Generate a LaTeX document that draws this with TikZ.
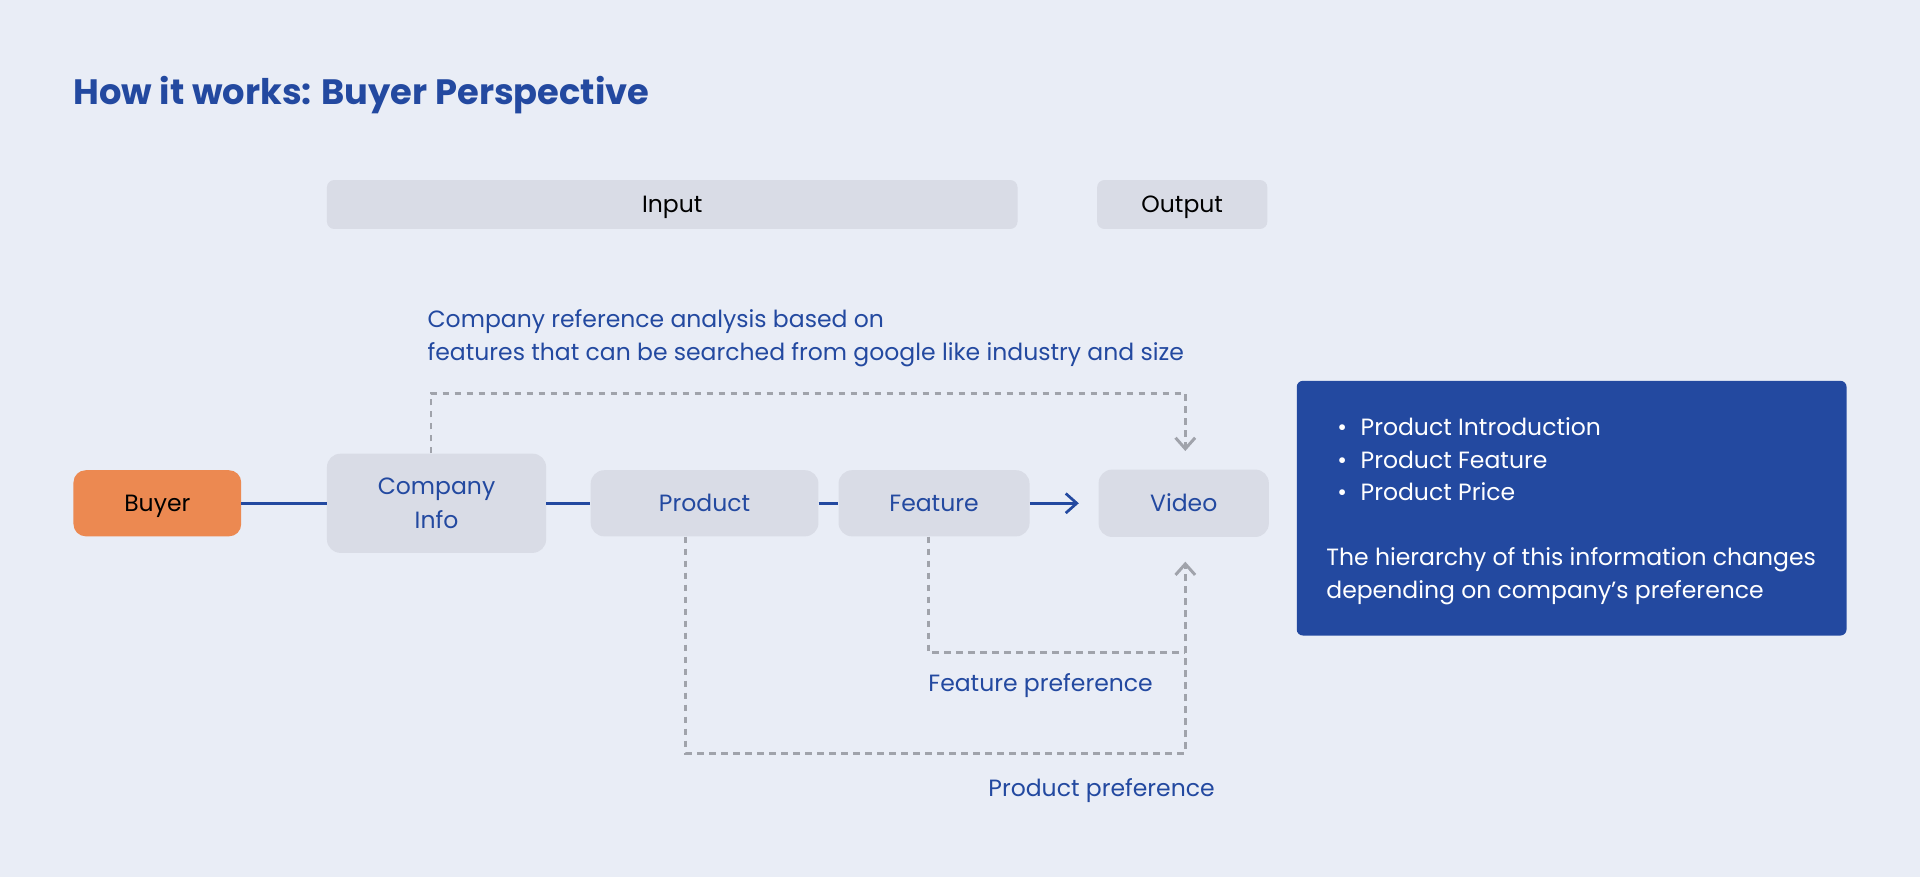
\documentclass[tikz,border=0pt]{standalone}
\usepackage{fontspec}
\setmainfont{Poppins}
\usetikzlibrary{arrows.meta,positioning}
\definecolor{bgcol}{HTML}{E9EDF6}
\definecolor{boxgray}{HTML}{D9DCE6}
\definecolor{ink}{HTML}{2349A0}
\definecolor{buyercol}{HTML}{EC8951}
\definecolor{dashgray}{HTML}{A0A3AB}
\newcommand{\bodysize}{\fontsize{19.2}{27}\selectfont}
\begin{document}
\begin{tikzpicture}[x=1pt,y=-1pt,>={Straight Barb[length=9pt,width=16pt]},
    main node/.style={fill=boxgray,rounded corners=11pt,inner sep=0pt,text=ink,align=center,font=\bodysize},
    one line/.style={text height=20pt,text depth=6.7pt},
    head node/.style={fill=boxgray,rounded corners=6pt,inner sep=0pt,minimum height=40pt,font=\bodysize,one line},
    note/.style={text=ink,inner sep=0pt,anchor=west,align=left,font=\bodysize},
    info text/.style={text=white,inner sep=0pt,anchor=west,font=\bodysize},
    link/.style={draw=ink,line width=2.2pt},
    pref/.style={draw=dashgray,line width=2.4pt,dash pattern=on 5.5pt off 4.3pt}]
    \useasboundingbox[fill=bgcol] (0,0) rectangle (1568,716);
    \node[text=ink,anchor=west,inner sep=0pt,font=\fontsize{28.8}{34}\selectfont\bfseries] (title) at (60,78) {How it works: Buyer Perspective};
    % header bars
    \node[head node,minimum width=564pt] (input) at (549,167) {Input};
    \node[head node,minimum width=139pt] (output) at (965.5,167) {Output};
    % flow
    \node[main node,one line,fill=buyercol,text=black,minimum width=137pt,minimum height=54pt,rounded corners=10pt] (buyer) at (128.5,411) {Buyer};
    \node[main node,minimum width=179pt,minimum height=81pt] (cinfo) at (356.5,411) {Company\\Info};
    \node[main node,one line,minimum width=186pt,minimum height=54pt] (product) [right=36pt of cinfo] {Product};
    \node[main node,one line,minimum width=156pt,minimum height=54pt] (feature) [right=16pt of product] {Feature};
    \node[main node,one line,minimum width=139pt,minimum height=55pt] (video) [right=56pt of feature] {Video};
    \draw[link] (buyer) -- (cinfo);
    \draw[link] (cinfo) -- (product);
    \draw[link] (product) -- (feature);
    \draw[link,->] (feature) -- ([xshift=-16pt]video.west);
    % preference paths
    \coordinate (top) at (968,321);
    \coordinate (featcorner) at (968,533);
    \coordinate (prodcorner) at (968,615);
    \draw[pref,->] ([xshift=-4.5pt]cinfo.north) |- (top) -- ([yshift=15pt]video.north -| top);
    \draw[pref] (feature.south -| 758,0) |- (featcorner);
    \draw[pref,->] (product.south -| 560,0) |- (prodcorner) -- ([yshift=-20pt]video.south -| top);
    \node[note] (reflabel) at (349,276.5) {Company reference analysis based on\\features that can be searched from google like industry and size};
    \node[note,one line] (featlabel) at (758,558) {Feature preference};
    \node[note,one line] (prodlabel) at (807,644) {Product preference};
    % content of the video
    \node[fill=ink,rounded corners=5pt,minimum width=449pt,minimum height=208pt,inner sep=0pt] (info) at (1283.5,415) {};
    \foreach \y/\t [count=\i] in {349/Product Introduction,376/Product Feature,402/Product Price} {
        \node[info text,one line] (dot\i) at (1092,\y) {\textbullet};
        \node[info text,one line] (item\i) at (1111,\y) {\t};
    }
    \node[info text,align=left] (hier) at (1083,470.5) {The hierarchy of this information changes\\depending on company’s preference};
\end{tikzpicture}
\end{document}
